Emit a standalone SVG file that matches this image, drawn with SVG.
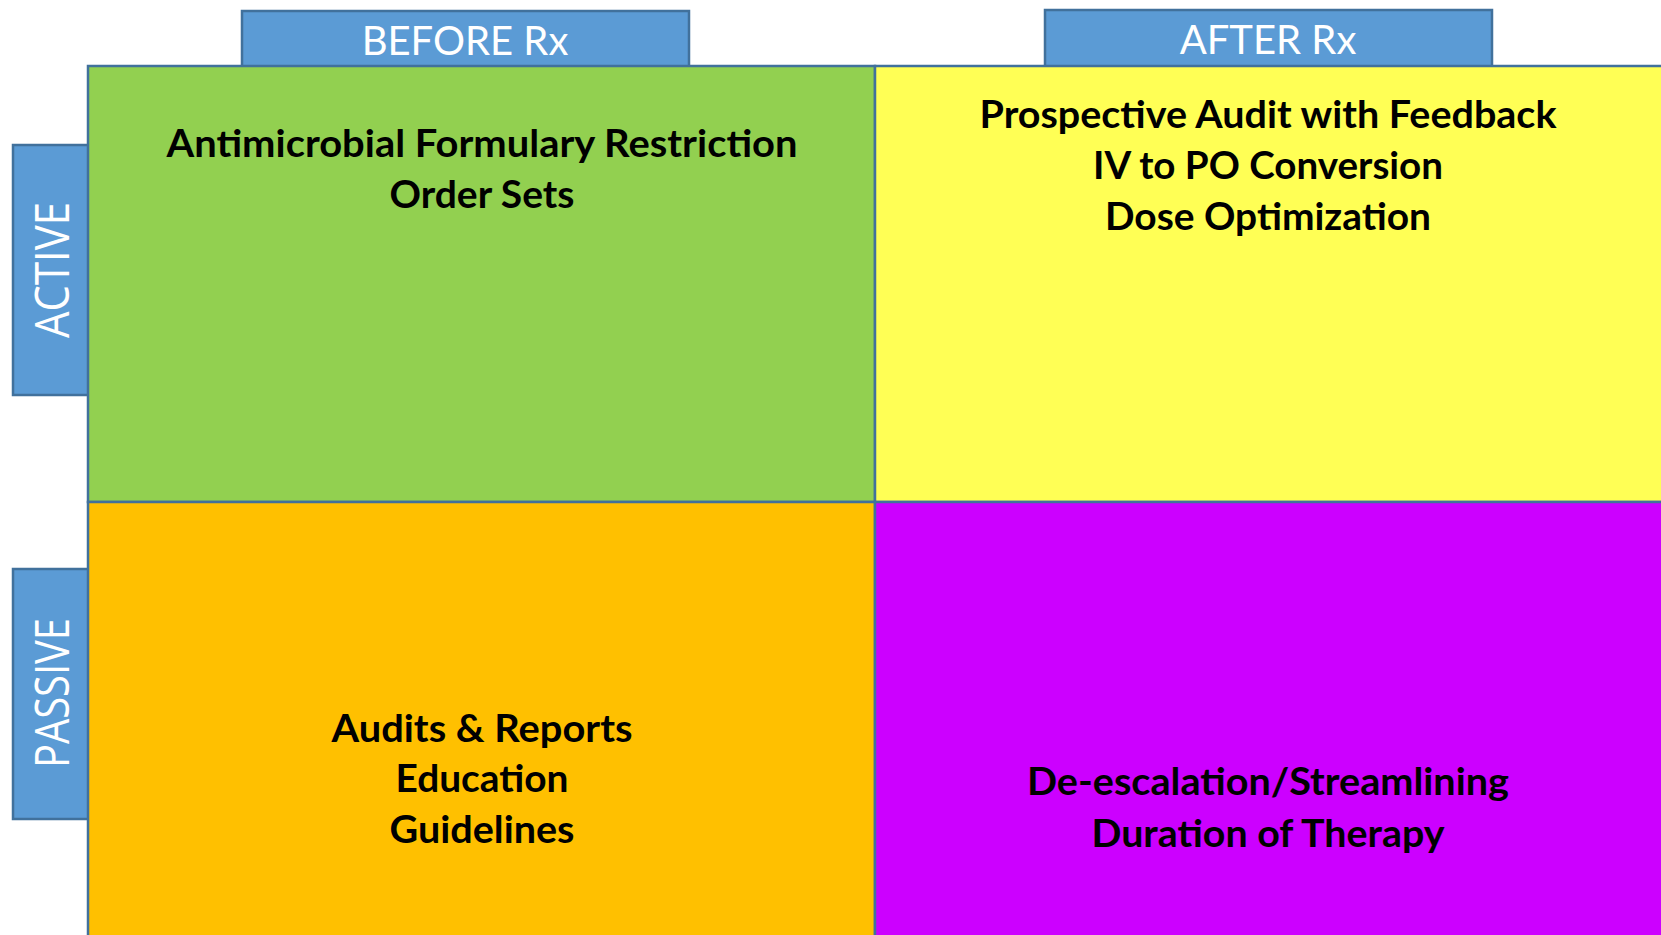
<svg xmlns="http://www.w3.org/2000/svg" width="1661" height="935" viewBox="0 0 1661 935">
<style>
.hdr{fill:#5B9BD5;stroke:#41719C;stroke-width:2.5}
.quad{stroke:#41719C;stroke-width:2.5}
.lbl{font-family:Lato,"Open Sans",sans-serif;font-size:40px;fill:#FFFFFF;text-anchor:middle}
.side{font-family:"Open Sans",Lato,sans-serif;font-size:48px;fill:#FFFFFF;text-anchor:middle}
.body{font-family:Lato,"Open Sans",sans-serif;font-weight:bold;font-size:38px;fill:#000000;text-anchor:middle}
</style>
<rect width="1661" height="935" fill="#FFFFFF"/>
<g id="before-rx">
<rect class="hdr" x="242" y="11" width="447" height="56"/>
<text class="lbl" x="465" y="55">BEFORE Rx</text>
</g>
<g id="after-rx">
<rect class="hdr" x="1045" y="10" width="447" height="57"/>
<text class="lbl" x="1268" y="54">AFTER Rx</text>
</g>
<g id="active">
<rect class="hdr" x="13" y="145" width="76" height="250"/>
<text class="side" transform="translate(69,270) rotate(-90)" x="0" y="0" textLength="136" lengthAdjust="spacingAndGlyphs">ACTIVE</text>
</g>
<g id="passive">
<rect class="hdr" x="13" y="569" width="76" height="250"/>
<text class="side" transform="translate(69,693) rotate(-90)" x="0" y="0" textLength="150" lengthAdjust="spacingAndGlyphs">PASSIVE</text>
</g>
<g id="before-active">
<rect class="quad" x="88" y="66" width="787" height="436" fill="#92D050"/>
<text class="body" x="482" y="157" textLength="631" lengthAdjust="spacingAndGlyphs">Antimicrobial Formulary Restriction</text>
<text class="body" x="482" y="208" textLength="185" lengthAdjust="spacingAndGlyphs">Order Sets</text>
</g>
<g id="after-active">
<rect class="quad" x="875" y="66" width="790" height="436" fill="#FFFF55"/>
<text class="body" x="1268" y="128" textLength="577" lengthAdjust="spacingAndGlyphs">Prospective Audit with Feedback</text>
<text class="body" x="1268" y="179" textLength="350" lengthAdjust="spacingAndGlyphs">IV to PO Conversion</text>
<text class="body" x="1268" y="230" textLength="326" lengthAdjust="spacingAndGlyphs">Dose Optimization</text>
</g>
<g id="before-passive">
<rect class="quad" x="88" y="502" width="787" height="440" fill="#FFC000"/>
<text class="body" x="482" y="742" textLength="301" lengthAdjust="spacingAndGlyphs">Audits &amp; Reports</text>
<text class="body" x="482" y="792" textLength="173" lengthAdjust="spacingAndGlyphs">Education</text>
<text class="body" x="482" y="843" textLength="185" lengthAdjust="spacingAndGlyphs">Guidelines</text>
</g>
<g id="after-passive">
<rect class="quad" x="875" y="502" width="790" height="440" fill="#CC00FF"/>
<text class="body" x="1268" y="795" textLength="482" lengthAdjust="spacingAndGlyphs">De-escalation/Streamlining</text>
<text class="body" x="1268" y="847" textLength="353" lengthAdjust="spacingAndGlyphs">Duration of Therapy</text>
</g>
<g id="connectors"></g>
</svg>
